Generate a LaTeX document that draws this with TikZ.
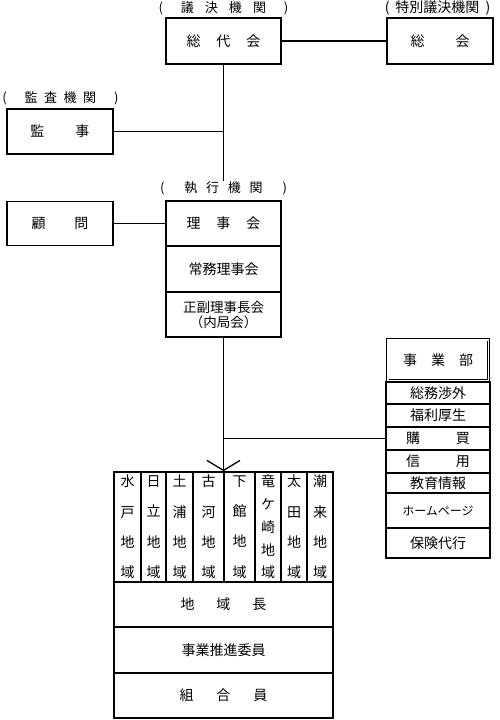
\documentclass[tikz,border=0pt]{standalone}
\usepackage{fontspec}
\setmainfont{Noto Sans CJK JP}
\usetikzlibrary{arrows.meta,fit}
\begin{document}
\begin{tikzpicture}[x=1pt,y=-1pt,
  box/.style={draw,line width=1.2pt,inner sep=0pt,align=center,font=\fontsize{14}{17}\selectfont},
  sbox/.style={box,minimum width=104,font=\fontsize{14}{17}\selectfont},
  col/.style={box,minimum height=110,font=\fontsize{14}{30.3}\selectfont},
  wide/.style={box,minimum width=219},
  lbl/.style={inner sep=0pt,font=\fontsize{13}{15}\selectfont},
  link/.style={line width=1.3pt}
]
\useasboundingbox (0,0) rectangle (500,720);

% labels
\node[lbl] (l1) at (223.5,8) {(\hspace{18pt}議\hspace{11pt}決\hspace{11pt}機\hspace{11pt}関\hspace{18pt})};
\node[lbl,font=\fontsize{14}{16}\selectfont] (l2) at (437.5,8) {(\hspace{6pt}特別議決機関\hspace{6pt})};
\node[lbl] (l3) at (60.5,98) {(\hspace{18pt}監\hspace{6.5pt}査\hspace{6.5pt}機\hspace{6.5pt}関\hspace{18pt})};
\node[lbl] (l4) at (223.5,188) {(\hspace{20pt}執\hspace{8.7pt}行\hspace{8.7pt}機\hspace{8.7pt}関\hspace{20pt})};

% top boxes
\node[box,minimum width=115,minimum height=46] (sodai) at (223.5,41) {総\hspace{16pt}代\hspace{16pt}会};
\node[box,minimum width=106,minimum height=46] (sokai) at (440,41) {総\hspace{31pt}会};
\node[box,minimum width=106,minimum height=45] (kanji) at (60,131.5) {監\hspace{31pt}事};
\node[box,minimum width=106,minimum height=44] (komon) at (60,223.5) {顧\hspace{29pt}問};

% executive
\node[box,minimum width=115,minimum height=45] (riji) at (223.5,223.5) {理\hspace{16pt}事\hspace{16pt}会};
\node[box,minimum width=115,minimum height=46] (jomu) at (223.5,269) {常務理事会};
\node[box,minimum width=115,minimum height=45,font=\fontsize{13.5}{15}\selectfont] (seifuku) at (223.5,314.5) {正副理事長会\\（内局会）};

% business dept
\node[box,double,double distance=1.6pt,line width=0.9pt,minimum width=100.6,minimum height=40.6] (jigyo) at (438,360) {事\hspace{14pt}業\hspace{14pt}部};
\node[sbox,minimum height=22] (somu) at (438,393) {総務渉外};
\node[sbox,minimum height=23] (fukuri) at (438,415.5) {福利厚生};
\node[sbox,minimum height=23] (kobai) at (438,438.5) {購\hspace{36pt}買};
\node[sbox,minimum height=23] (shinyo) at (438,461.5) {信\hspace{36pt}用};
\node[sbox,minimum height=20] (kyoiku) at (438,483) {教育情報};
\node[sbox,minimum height=35,font=\fontsize{12}{14}\selectfont] (hp) at (438,510.5) {ホームページ};
\node[sbox,minimum height=30] (hoken) at (438,543) {保険代行};

% regions
\node[col,minimum width=27] (c1) at (127.5,527) {水\\戸\\地\\域};
\node[col,minimum width=25] (c2) at (153.5,527) {日\\立\\地\\域};
\node[col,minimum width=27] (c3) at (179.5,527) {土\\浦\\地\\域};
\node[col,minimum width=31] (c4) at (208.5,527) {古\\河\\地\\域};
\node[col,minimum width=31] (c5) at (239.5,527) {下\\館\\地\\域};
\node[col,minimum width=26,font=\fontsize{14}{22.75}\selectfont] (c6) at (268,527) {竜\\ケ\\崎\\地\\域};
\node[col,minimum width=26] (c7) at (294,527) {太\\田\\地\\域};
\node[col,minimum width=26] (c8) at (320,527) {潮\\来\\地\\域};
\node[wide,minimum height=45] (chicho) at (223.5,604.5) {地\hspace{22pt}域\hspace{22pt}長};
\node[wide,minimum height=46] (suishin) at (223.5,650) {事業推進委員};
\node[wide,minimum height=45] (kumiai) at (223.5,695.5) {組\hspace{23pt}合\hspace{23pt}員};
\node[fit=(c1)(c8)(kumiai),inner sep=0pt] (region) {};

% connectors
\draw[link] (sodai.east) -- (sokai.west);
\draw[link] (sodai.south) -- (l4.north);
\draw[link] (kanji.east) -- (kanji.east -| sodai.south);
\draw[link] (komon.east) -- (komon.east -| riji.west);
\draw[link,-{Straight Barb[length=10pt,width=33pt]}] (seifuku.south) -- (region.north);
\draw[link] (kobai.west -| seifuku.south) -- (kobai.west);
\end{tikzpicture}
\end{document}
